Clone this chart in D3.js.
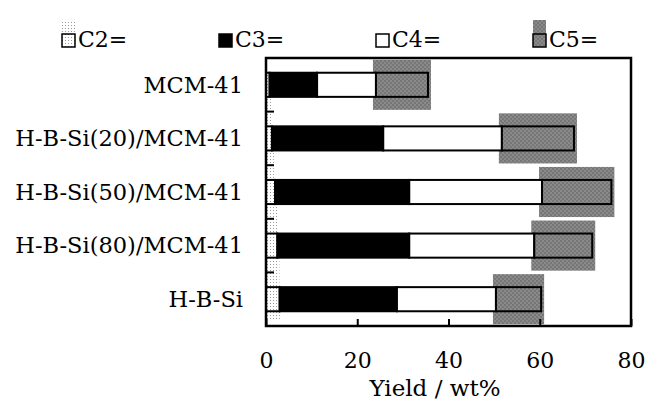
<!DOCTYPE html>
<html>
<head>
<meta charset="utf-8">
<script src="https://cdn.jsdelivr.net/npm/d3@7"></script>
<style>
  body { margin: 0; background: #fff; }
  svg { display: block; font-family: "DejaVu Serif", serif; }
</style>
</head>
<body>
<svg width="646" height="403"></svg>
<script>
// data
const catalysts = ["MCM-41", "H-B-Si(20)/MCM-41", "H-B-Si(50)/MCM-41", "H-B-Si(80)/MCM-41", "H-B-Si"];
const products = ["C2=", "C3=", "C4=", "C5="];
const c2 = [0.8, 1.3, 2.0, 2.5, 3.0];
const c3 = [10.4, 24.4, 29.4, 28.9, 25.7];
const c4 = [12.9, 26.0, 29.1, 27.4, 21.7];
const c5 = [11.4, 15.8, 15.2, 12.7, 9.9];
const xTicks = [0, 20, 40, 60, 80];

const svg = d3.select("svg");
const margin = { top: 58, right: 15, bottom: 77, left: 266 };
const W = 646, H = 403;

const x = d3.scaleLinear().domain([0, 80]).range([margin.left, W - margin.right]);
const y = d3.scaleBand().domain(catalysts)
  .range([margin.top, H - margin.bottom])
  .paddingInner(0.55).paddingOuter(0.275);

// fill patterns
const defs = svg.append("defs");
const dots = defs.append("pattern").attr("id", "p-c2")
  .attr("patternUnits", "userSpaceOnUse").attr("width", 3).attr("height", 3);
dots.append("rect").attr("width", 3).attr("height", 3).attr("fill", "#fff");
dots.append("rect").attr("width", 1).attr("height", 1).attr("fill", "#9a9a9a");
const checker = defs.append("pattern").attr("id", "p-c5")
  .attr("patternUnits", "userSpaceOnUse").attr("width", 4).attr("height", 4);
checker.append("rect").attr("width", 4).attr("height", 4).attr("fill", "#8a8a8a");
checker.append("rect").attr("width", 2).attr("height", 2).attr("fill", "#767676");
checker.append("rect").attr("x", 2).attr("y", 2).attr("width", 2).attr("height", 2).attr("fill", "#767676");

const fills = ["url(#p-c2)", "#000", "#fff", "url(#p-c5)"];

const rows = catalysts.map((c, i) => ({ cat: c, C2: c2[i], C3: c3[i], C4: c4[i], C5: c5[i] }));
const stack = d3.stack().keys(["C2", "C3", "C4", "C5"])(rows);

// pattern bleed behind the bars (as in the original print)
const bleed = 13;
const plotBottom = H - margin.bottom;
svg.append("g").selectAll("rect")
  .data(stack[3])
  .join("rect")
  .attr("x", d => x(d[0]) - 3)
  .attr("y", d => y(d.data.cat) - bleed)
  .attr("width", d => x(d[1]) - x(d[0]) + 6)
  .attr("height", y.bandwidth() + 2 * bleed)
  .attr("fill", "url(#p-c5)");
svg.append("g").selectAll("rect")
  .data(stack[0])
  .join("rect")
  .attr("x", x(0))
  .attr("y", d => y(d.data.cat))
  .attr("width", d => x(d[1]) - x(0) + 2)
  .attr("height", d => Math.min(y.step(), plotBottom - 6 - y(d.data.cat)))
  .attr("fill", "url(#p-c2)");

// bars
svg.append("g").selectAll("g")
  .data(stack)
  .join("g")
  .attr("fill", (d, i) => fills[i])
  .selectAll("rect")
  .data(d => d)
  .join("rect")
  .attr("x", d => x(d[0]))
  .attr("y", d => y(d.data.cat))
  .attr("width", d => x(d[1]) - x(d[0]))
  .attr("height", y.bandwidth())
  .attr("stroke", "#000")
  .attr("stroke-width", 2);

// frame
svg.append("rect")
  .attr("x", x(0)).attr("y", margin.top)
  .attr("width", x(80) - x(0)).attr("height", plotBottom - margin.top)
  .attr("fill", "none").attr("stroke", "#000").attr("stroke-width", 2.5);

// X axis
const xAxis = svg.append("g")
  .attr("transform", `translate(0, ${plotBottom})`)
  .call(d3.axisBottom(x).tickValues(xTicks).tickSizeInner(-7).tickSizeOuter(0).tickPadding(26));
xAxis.select(".domain").remove();
xAxis.selectAll("line").attr("stroke", "#000").attr("stroke-width", 2);
xAxis.selectAll("text")
  .style("font-family", "DejaVu Serif")
  .style("font-size", "22px")
  .attr("fill", "#000");

svg.append("text")
  .attr("x", 435)
  .attr("y", 396)
  .attr("text-anchor", "middle")
  .style("font-size", "23px")
  .text("Yield / wt%");

// Y ticks between categories
svg.append("g").selectAll("line")
  .data(catalysts.slice(1))
  .join("line")
  .attr("x1", x(0)).attr("x2", x(0) + 8)
  .attr("y1", d => y(d) - y.step() * y.paddingInner() / 2)
  .attr("y2", d => y(d) - y.step() * y.paddingInner() / 2)
  .attr("stroke", "#000").attr("stroke-width", 2);

// category labels
svg.append("g").selectAll("text")
  .data(catalysts)
  .join("text")
  .attr("x", 243)
  .attr("y", d => y(d) + y.bandwidth() / 2)
  .attr("dy", "0.35em")
  .attr("text-anchor", "end")
  .style("font-size", "22.5px")
  .text(d => d);

// legend
const legend = svg.append("g").selectAll("g")
  .data(products)
  .join("g")
  .attr("transform", (d, i) => `translate(${62 + i * 157}, 34)`);
legend.filter((d, i) => i === 0 || i === 3)
  .append("rect")
  .attr("y", -14).attr("width", 13).attr("height", 14)
  .attr("fill", (d, i) => i === 0 ? "url(#p-c2)" : "url(#p-c5)");
legend.append("rect")
  .attr("width", 13).attr("height", 13)
  .attr("fill", (d, i) => fills[i])
  .attr("stroke", "#000").attr("stroke-width", 1.5);
legend.append("text")
  .attr("x", 16).attr("y", 13)
  .style("font-size", "22px")
  .text(d => d);
</script>
</body>
</html>
